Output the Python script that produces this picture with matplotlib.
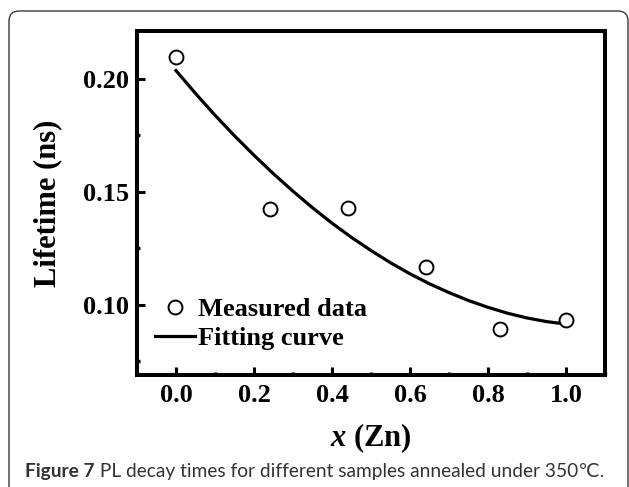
import matplotlib
matplotlib.use("Agg")
import matplotlib.pyplot as plt
from matplotlib.patches import FancyBboxPatch
from matplotlib.ticker import MultipleLocator, FormatStrFormatter

plt.rcParams["mathtext.fontset"] = "custom"
plt.rcParams["mathtext.it"] = "Liberation Serif:italic:bold"
plt.rcParams["mathtext.rm"] = "Liberation Serif:bold"

# ---- data ----
x_measured = [0.0, 0.24, 0.44, 0.64, 0.83, 1.0]
lifetime_measured = [0.2093, 0.1425, 0.1427, 0.1167, 0.0894, 0.0934]

x_fit = [0.0, 0.05, 0.10, 0.15, 0.20, 0.25, 0.30, 0.35, 0.40, 0.45, 0.50,
         0.55, 0.60, 0.65, 0.70, 0.75, 0.80, 0.85, 0.90, 0.95, 1.0]
lifetime_fit = [0.2035, 0.1934, 0.1838, 0.1747, 0.1661, 0.1579, 0.1502,
                0.1429, 0.1361, 0.1298, 0.1240, 0.1186, 0.1137, 0.1093,
                0.1054, 0.1019, 0.0989, 0.0963, 0.0942, 0.0926, 0.0915]

x_ticks = [0.0, 0.2, 0.4, 0.6, 0.8, 1.0]
y_ticks = [0.10, 0.15, 0.20]

legend_labels = ["Measured data", "Fitting curve"]
x_label = r"$x$ (Zn)"
y_label = "Lifetime (ns)"
caption_bold = "Figure 7"
caption_rest = " PL decay times for different samples annealed under 350℃."

W, H, DPI = 629, 487, 100
fig = plt.figure(figsize=(W / DPI, H / DPI), dpi=DPI)

# rounded frame around the figure
frame = FancyBboxPatch((0.09, -0.3), 6.19, 4.76 + 0.3,
                       boxstyle="round,pad=0,rounding_size=0.1",
                       transform=fig.dpi_scale_trans, fill=False,
                       edgecolor="#3a3a3a", linewidth=1.0, clip_on=False)
fig.add_artist(frame)

# axes placement
left, right, top, bottom = 137, 605, 31, 375
ax = fig.add_axes([left / W, (H - bottom) / H, (right - left) / W, (bottom - top) / H])

serif = "Liberation Serif"

ax.plot(x_measured, lifetime_measured, linestyle="none", marker="o",
        markersize=10, markerfacecolor="white", markeredgecolor="black",
        markeredgewidth=1.4, label=legend_labels[0], zorder=3)
ax.plot(x_fit, lifetime_fit, color="black", linewidth=2.3,
        label=legend_labels[1], zorder=2)

ax.set_xlim(-0.1, 1.1)
ax.set_ylim(0.069, 0.221)
ax.set_xticks(x_ticks)
ax.set_yticks(y_ticks)
ax.xaxis.set_major_formatter(FormatStrFormatter("%.1f"))
ax.yaxis.set_major_formatter(FormatStrFormatter("%.2f"))
ax.xaxis.set_minor_locator(MultipleLocator(0.1))
ax.yaxis.set_minor_locator(MultipleLocator(0.025))

for s in ax.spines.values():
    s.set_linewidth(2.9)
ax.tick_params(which="major", direction="in", length=5.5, width=2.2,
               top=False, right=False)
ax.tick_params(which="minor", direction="in", length=2.5, width=2.4,
               top=False, right=False)
ax.tick_params(axis="x", which="major", pad=6.5)
ax.tick_params(axis="y", which="major", pad=6.0)
for lab in ax.get_xticklabels() + ax.get_yticklabels():
    lab.set_fontfamily(serif)
    lab.set_fontweight("bold")
    lab.set_fontsize(19)

ax.set_xlabel(x_label, fontfamily=serif, fontweight="bold", fontsize=22)
ax.xaxis.label.set_va("top")
ax.xaxis.set_label_coords(0.5, -0.135)
ax.set_ylabel(y_label, fontfamily=serif, fontweight="bold", fontsize=22, va="center")
ax.yaxis.set_label_coords(-0.19, 0.5)

leg = ax.legend(loc="upper left", bbox_to_anchor=(155 / W, (H - 298) / H),
                bbox_transform=fig.transFigure, frameon=False, numpoints=1,
                handlelength=1.5, handletextpad=0.12, labelspacing=0.2,
                borderpad=0, borderaxespad=0,
                prop={"family": serif, "weight": "bold", "size": 19})

# caption
cap_font = ["Lato", "DejaVu Sans"]
t1 = fig.text(25 / W, (H - 477) / H, caption_bold, fontfamily=cap_font,
              fontweight="bold", fontsize=13.8, color="#333333", va="baseline")
fig.canvas.draw()
bb = t1.get_window_extent(renderer=fig.canvas.get_renderer())
fig.text(bb.x1 / W, (H - 477) / H, caption_rest, fontfamily=cap_font,
         fontsize=13.8, color="#333333", va="baseline")

fig.savefig("out.png", dpi=DPI)
